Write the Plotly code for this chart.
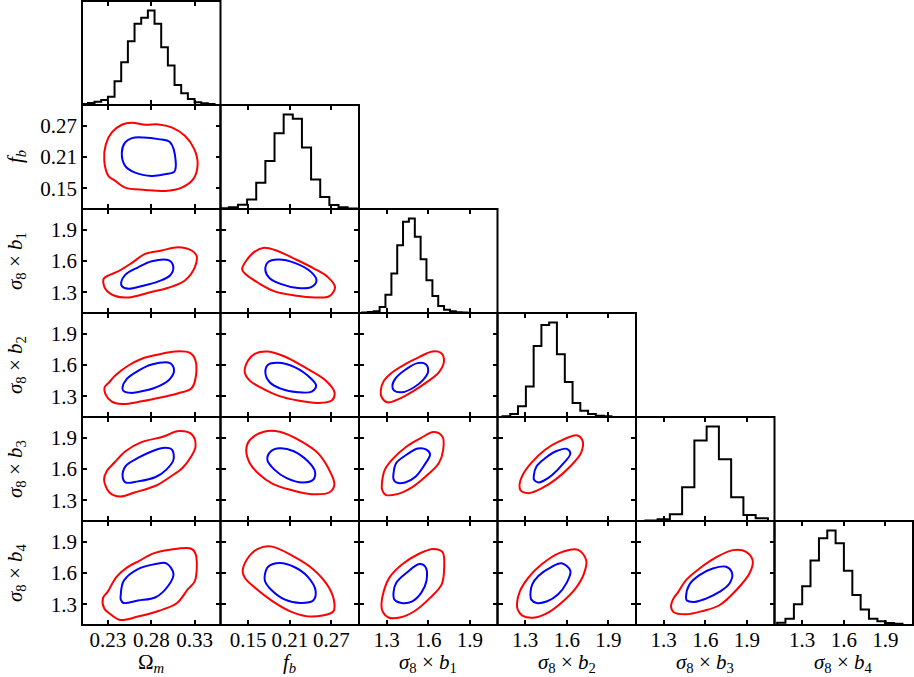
import plotly.graph_objects as go

# ---------------- data ----------------
param_names = ["om", "fb", "b1", "b2", "b3", "b4"]
param_labels = [
    "Ω<sub><i>m</i></sub>",
    "<i>f</i><sub><i>b</i></sub>",
    "<i>σ</i><sub>8</sub> × <i>b</i><sub>1</sub>",
    "<i>σ</i><sub>8</sub> × <i>b</i><sub>2</sub>",
    "<i>σ</i><sub>8</sub> × <i>b</i><sub>3</sub>",
    "<i>σ</i><sub>8</sub> × <i>b</i><sub>4</sub>",
]
axis_ranges = [[0.2, 0.36], [0.11, 0.31], [1.1, 2.1], [1.1, 2.1], [1.1, 2.1], [1.1, 2.1]]
tick_values = [[0.23, 0.28, 0.33], [0.15, 0.21, 0.27], [1.3, 1.6, 1.9],
               [1.3, 1.6, 1.9], [1.3, 1.6, 1.9], [1.3, 1.6, 1.9]]
tick_labels = [["0.23", "0.28", "0.33"], ["0.15", "0.21", "0.27"], ["1.3", "1.6", "1.9"],
               ["1.3", "1.6", "1.9"], ["1.3", "1.6", "1.9"], ["1.3", "1.6", "1.9"]]

# 1D marginal histograms (bin edges, normalised heights)
om_edges = [0.1991, 0.2068, 0.2145, 0.2222, 0.2299, 0.2376, 0.2453, 0.2530, 0.2607, 0.2684,
            0.2761, 0.2838, 0.2915, 0.2992, 0.3069, 0.3146, 0.3223, 0.3300, 0.3377, 0.3454, 0.3531]
om_heights = [0.01, 0.02, 0.035, 0.053, 0.088, 0.251, 0.452, 0.675, 0.859, 0.922,
              1.0, 0.859, 0.611, 0.417, 0.212, 0.124, 0.064, 0.028, 0.018, 0.01]
fb_edges = [0.1088, 0.1220, 0.1352, 0.1484, 0.1616, 0.1748, 0.1880, 0.2012, 0.2144, 0.2276,
            0.2408, 0.2540, 0.2672, 0.2804, 0.2936, 0.3068]
fb_heights = [0.007, 0.018, 0.046, 0.10, 0.278, 0.509, 0.80, 1.0, 0.954, 0.651,
              0.313, 0.128, 0.043, 0.018, 0.004]
b1_edges = [1.122, 1.164, 1.207, 1.249, 1.291, 1.334, 1.376, 1.418, 1.460, 1.503,
            1.545, 1.587, 1.630, 1.672, 1.714, 1.757, 1.799, 1.841, 1.883]
b1_heights = [0.004, 0.011, 0.018, 0.064, 0.194, 0.417, 0.717, 0.965, 1.0, 0.806,
              0.569, 0.346, 0.18, 0.074, 0.035, 0.018, 0.007, 0.004]
b2_edges = [1.136, 1.192, 1.248, 1.305, 1.361, 1.417, 1.473, 1.529, 1.586, 1.642,
            1.698, 1.754, 1.810, 1.867, 1.923]
b2_heights = [0.007, 0.032, 0.113, 0.323, 0.752, 0.972, 1.0, 0.663, 0.369, 0.149,
              0.067, 0.032, 0.014, 0.007]
b3_edges = [1.1675, 1.256, 1.3445, 1.433, 1.5215, 1.61, 1.6985, 1.787, 1.8755, 1.964, 2.0525]
b3_heights = [0.004, 0.018, 0.071, 0.357, 0.852, 1.0, 0.654, 0.251, 0.064, 0.028]
b4_edges = [1.119, 1.179, 1.240, 1.300, 1.360, 1.421, 1.481, 1.541, 1.601, 1.662,
            1.722, 1.782, 1.843, 1.903, 1.963, 2.024]
b4_heights = [0.025, 0.067, 0.22, 0.411, 0.681, 0.918, 1.0, 0.865, 0.574, 0.316,
              0.163, 0.067, 0.039, 0.021, 0.014]

# 2D credible contours: (x, y) points; "in" = 68% (blue), "out" = 95% (red)
c_fb_om_out = [(0.2257, 0.2026), (0.2276, 0.2348), (0.2345, 0.2572), (0.2460, 0.2720), (0.2576, 0.2760),
               (0.2730, 0.2720), (0.2883, 0.2727), (0.3036, 0.2670), (0.3189, 0.2508), (0.3297, 0.2251),
               (0.3336, 0.1961), (0.3285, 0.1673), (0.3151, 0.1511), (0.2960, 0.1447), (0.2730, 0.1467),
               (0.2499, 0.1511), (0.2384, 0.1640), (0.2307, 0.1733)]
c_fb_om_in = [(0.2460, 0.2187), (0.2499, 0.2380), (0.2576, 0.2463), (0.2710, 0.2476), (0.2883, 0.2444),
              (0.3017, 0.2383), (0.3082, 0.2026), (0.3067, 0.1820), (0.2960, 0.1769), (0.2806, 0.1737),
              (0.2614, 0.1800), (0.2499, 0.1930)]

c_b1_om_out = [(0.2250, 1.429), (0.2307, 1.461), (0.2422, 1.503), (0.2576, 1.582), (0.2730, 1.669),
               (0.2921, 1.701), (0.3112, 1.733), (0.3266, 1.701), (0.3323, 1.653), (0.3304, 1.541),
               (0.3189, 1.413), (0.2998, 1.343), (0.2768, 1.295), (0.2538, 1.250), (0.2384, 1.263),
               (0.2269, 1.333)]
c_b1_om_in = [(0.2453, 1.397), (0.2499, 1.467), (0.2653, 1.541), (0.2806, 1.598), (0.3005, 1.605),
              (0.3055, 1.541), (0.3017, 1.461), (0.2883, 1.404), (0.2691, 1.359), (0.2537, 1.333),
              (0.2460, 1.359)]
c_b1_fb_out = [(0.1412, 1.519), (0.1474, 1.605), (0.1584, 1.685), (0.1714, 1.726), (0.1906, 1.701),
               (0.2170, 1.621), (0.2458, 1.525), (0.2650, 1.445), (0.2754, 1.349), (0.2674, 1.263),
               (0.2458, 1.250), (0.2170, 1.269), (0.1882, 1.308), (0.1642, 1.391), (0.1474, 1.467)]
c_b1_fb_in = [(0.1748, 1.509), (0.1786, 1.589), (0.1930, 1.614), (0.2170, 1.582), (0.2410, 1.493),
              (0.2486, 1.413), (0.2410, 1.349), (0.2218, 1.340), (0.1978, 1.378), (0.1810, 1.435)]

c_b2_om_out = [(0.2261, 1.386), (0.2315, 1.434), (0.2384, 1.499), (0.2537, 1.595), (0.2691, 1.660),
               (0.2883, 1.701), (0.3074, 1.730), (0.3247, 1.717), (0.3304, 1.660), (0.3317, 1.499),
               (0.3266, 1.377), (0.3112, 1.328), (0.2921, 1.290), (0.2691, 1.251), (0.2460, 1.225),
               (0.2345, 1.248), (0.2269, 1.322)]
c_b2_om_in = [(0.2468, 1.386), (0.2518, 1.467), (0.2653, 1.547), (0.2806, 1.605), (0.3017, 1.618),
              (0.3063, 1.547), (0.3017, 1.467), (0.2902, 1.402), (0.2730, 1.354), (0.2557, 1.332),
              (0.2476, 1.354)]
c_b2_fb_out = [(0.1450, 1.531), (0.1498, 1.643), (0.1594, 1.708), (0.1786, 1.730), (0.2026, 1.682),
               (0.2314, 1.579), (0.2602, 1.460), (0.2746, 1.338), (0.2706, 1.258), (0.2506, 1.235),
               (0.2218, 1.258), (0.1930, 1.306), (0.1690, 1.380), (0.1522, 1.450)]
c_b2_fb_in = [(0.1748, 1.531), (0.1786, 1.602), (0.1930, 1.621), (0.2170, 1.579), (0.2410, 1.467),
              (0.2481, 1.402), (0.2418, 1.344), (0.2218, 1.338), (0.1978, 1.370), (0.1810, 1.434)]
c_b2_b1_out = [(1.257, 1.354), (1.281, 1.450), (1.341, 1.531), (1.437, 1.611), (1.534, 1.676),
               (1.630, 1.730), (1.690, 1.717), (1.714, 1.643), (1.678, 1.531), (1.582, 1.428),
               (1.486, 1.344), (1.389, 1.274), (1.305, 1.241), (1.264, 1.290)]
c_b2_b1_in = [(1.341, 1.402), (1.365, 1.473), (1.437, 1.557), (1.522, 1.618), (1.582, 1.608),
              (1.599, 1.537), (1.563, 1.457), (1.498, 1.386), (1.413, 1.338), (1.353, 1.354)]

c_b3_om_out = [(0.2255, 1.497), (0.2284, 1.577), (0.2378, 1.665), (0.2502, 1.771), (0.2687, 1.858),
               (0.2934, 1.910), (0.3119, 1.965), (0.3270, 1.932), (0.3312, 1.819), (0.3263, 1.723),
               (0.3160, 1.610), (0.3016, 1.523), (0.2851, 1.439), (0.2605, 1.374), (0.2440, 1.335),
               (0.2317, 1.374)]
c_b3_om_in = [(0.2469, 1.529), (0.2502, 1.626), (0.2646, 1.706), (0.2810, 1.771), (0.2934, 1.803),
              (0.3037, 1.787), (0.3057, 1.690), (0.2975, 1.594), (0.2851, 1.523), (0.2646, 1.481),
              (0.2502, 1.471)]
c_b3_fb_out = [(0.1472, 1.787), (0.1522, 1.877), (0.1726, 1.958), (0.1954, 1.958), (0.2260, 1.868),
               (0.2514, 1.748), (0.2692, 1.561), (0.2744, 1.448), (0.2668, 1.374), (0.2412, 1.358),
               (0.2108, 1.400), (0.1854, 1.458), (0.1650, 1.555), (0.1522, 1.658)]
c_b3_fb_in = [(0.1776, 1.690), (0.1828, 1.771), (0.1954, 1.800), (0.2158, 1.771), (0.2362, 1.674),
              (0.2464, 1.577), (0.2438, 1.497), (0.2286, 1.471), (0.2056, 1.513), (0.1878, 1.594)]
c_b3_b1_out = [(1.267, 1.481), (1.287, 1.594), (1.344, 1.697), (1.446, 1.819), (1.549, 1.900),
               (1.638, 1.955), (1.703, 1.910), (1.708, 1.787), (1.677, 1.658), (1.587, 1.535),
               (1.485, 1.426), (1.382, 1.361), (1.292, 1.352), (1.267, 1.400)]
c_b3_b1_in = [(1.349, 1.555), (1.369, 1.658), (1.446, 1.739), (1.523, 1.797), (1.587, 1.787),
              (1.613, 1.739), (1.574, 1.642), (1.510, 1.529), (1.433, 1.471), (1.369, 1.471),
              (1.349, 1.503)]
c_b3_b2_out = [(1.259, 1.448), (1.279, 1.535), (1.344, 1.658), (1.446, 1.787), (1.549, 1.868),
               (1.677, 1.923), (1.715, 1.868), (1.703, 1.755), (1.626, 1.626), (1.523, 1.503),
               (1.421, 1.416), (1.323, 1.368), (1.267, 1.394)]
c_b3_b2_in = [(1.362, 1.535), (1.382, 1.626), (1.446, 1.706), (1.523, 1.771), (1.600, 1.794),
              (1.626, 1.748), (1.579, 1.658), (1.497, 1.545), (1.433, 1.487), (1.395, 1.471),
              (1.364, 1.497)]

c_b4_om_out = [(0.2255, 1.263), (0.2243, 1.361), (0.2296, 1.419), (0.2399, 1.563), (0.2522, 1.654),
               (0.2666, 1.719), (0.2810, 1.784), (0.3016, 1.823), (0.3263, 1.833), (0.3312, 1.784),
               (0.3304, 1.523), (0.3221, 1.442), (0.3098, 1.312), (0.2893, 1.237), (0.2646, 1.181),
               (0.2440, 1.149), (0.2338, 1.198)]
c_b4_om_in = [(0.2448, 1.393), (0.2481, 1.523), (0.2646, 1.637), (0.2851, 1.686), (0.2975, 1.693),
              (0.3057, 1.589), (0.2995, 1.475), (0.2851, 1.367), (0.2646, 1.335), (0.2481, 1.312),
              (0.2448, 1.344)]
c_b4_fb_out = [(0.1420, 1.615), (0.1486, 1.735), (0.1640, 1.833), (0.1828, 1.856), (0.2134, 1.768),
               (0.2438, 1.637), (0.2668, 1.458), (0.2744, 1.312), (0.2728, 1.230), (0.2412, 1.181),
               (0.2134, 1.224), (0.1854, 1.328), (0.1598, 1.458), (0.1456, 1.550)]
c_b4_fb_in = [(0.1742, 1.589), (0.1788, 1.660), (0.1954, 1.696), (0.2158, 1.660), (0.2362, 1.563),
              (0.2474, 1.426), (0.2438, 1.335), (0.2260, 1.312), (0.2032, 1.344), (0.1828, 1.442),
              (0.1742, 1.523)]
c_b4_b1_out = [(1.262, 1.295), (1.279, 1.426), (1.323, 1.563), (1.408, 1.680), (1.523, 1.778),
               (1.638, 1.830), (1.703, 1.800), (1.715, 1.654), (1.697, 1.491), (1.613, 1.361),
               (1.497, 1.230), (1.395, 1.172), (1.313, 1.172), (1.272, 1.224)]
c_b4_b1_in = [(1.349, 1.409), (1.369, 1.507), (1.446, 1.605), (1.536, 1.686), (1.579, 1.660),
              (1.587, 1.523), (1.549, 1.409), (1.485, 1.328), (1.408, 1.312), (1.356, 1.344)]
c_b4_b2_out = [(1.241, 1.312), (1.262, 1.426), (1.323, 1.556), (1.421, 1.686), (1.549, 1.794),
               (1.682, 1.823), (1.741, 1.719), (1.723, 1.589), (1.664, 1.452), (1.574, 1.328),
               (1.472, 1.224), (1.369, 1.172), (1.279, 1.191), (1.246, 1.247)]
c_b4_b2_in = [(1.338, 1.409), (1.351, 1.491), (1.395, 1.572), (1.485, 1.654), (1.562, 1.693),
              (1.626, 1.621), (1.600, 1.507), (1.536, 1.393), (1.459, 1.328), (1.382, 1.312),
              (1.344, 1.344)]
c_b4_b3_out = [(1.353, 1.274), (1.370, 1.354), (1.401, 1.409), (1.461, 1.531), (1.558, 1.643),
               (1.678, 1.750), (1.799, 1.820), (1.895, 1.804), (1.943, 1.717), (1.919, 1.595),
               (1.823, 1.434), (1.702, 1.290), (1.582, 1.235), (1.461, 1.203), (1.370, 1.225)]
c_b4_b3_in = [(1.461, 1.370), (1.486, 1.489), (1.558, 1.579), (1.654, 1.643), (1.751, 1.660),
              (1.794, 1.595), (1.775, 1.499), (1.702, 1.418), (1.606, 1.354), (1.522, 1.322),
              (1.466, 1.338)]

# ---------------- assembly ----------------
histograms = {
    "om": (om_edges, om_heights), "fb": (fb_edges, fb_heights), "b1": (b1_edges, b1_heights),
    "b2": (b2_edges, b2_heights), "b3": (b3_edges, b3_heights), "b4": (b4_edges, b4_heights),
}
contours = {
    ("fb", "om"): (c_fb_om_in, c_fb_om_out),
    ("b1", "om"): (c_b1_om_in, c_b1_om_out), ("b1", "fb"): (c_b1_fb_in, c_b1_fb_out),
    ("b2", "om"): (c_b2_om_in, c_b2_om_out), ("b2", "fb"): (c_b2_fb_in, c_b2_fb_out),
    ("b2", "b1"): (c_b2_b1_in, c_b2_b1_out),
    ("b3", "om"): (c_b3_om_in, c_b3_om_out), ("b3", "fb"): (c_b3_fb_in, c_b3_fb_out),
    ("b3", "b1"): (c_b3_b1_in, c_b3_b1_out), ("b3", "b2"): (c_b3_b2_in, c_b3_b2_out),
    ("b4", "om"): (c_b4_om_in, c_b4_om_out), ("b4", "fb"): (c_b4_fb_in, c_b4_fb_out),
    ("b4", "b1"): (c_b4_b1_in, c_b4_b1_out), ("b4", "b2"): (c_b4_b2_in, c_b4_b2_out),
    ("b4", "b3"): (c_b4_b3_in, c_b4_b3_out),
}

FONT = "Liberation Serif"
FS = 21
W, H = 914, 677
ML, MR, MT, MB = 82, 1, 1, 52
PW, PH = W - ML - MR, H - MT - MB

N = len(param_names)
fig = go.Figure()
layout = {}
shapes = []
annotations = []
n = 0
for i in range(N):
    for j in range(i + 1):
        n += 1
        xa = "x" if n == 1 else f"x{n}"
        ya = "y" if n == 1 else f"y{n}"
        xk = "xaxis" if n == 1 else f"xaxis{n}"
        yk = "yaxis" if n == 1 else f"yaxis{n}"
        if i == j:
            edges, heights = histograms[param_names[i]]
            xs, ys = [edges[0]], [0.0]
            for k, h in enumerate(heights):
                xs += [edges[k], edges[k + 1]]
                ys += [h, h]
            xs.append(edges[-1]); ys.append(0.0)
            fig.add_trace(go.Scatter(x=xs, y=ys, mode="lines", xaxis=xa, yaxis=ya,
                                     line=dict(color="black", width=2), showlegend=False,
                                     hoverinfo="skip"))
        else:
            inner, outer = contours[(param_names[i], param_names[j])]
            for pts, col in ((outer, "#ff0000"), (inner, "#0000ff")):
                px = [p[0] for p in pts] + [pts[0][0]]
                py = [p[1] for p in pts] + [pts[0][1]]
                fig.add_trace(go.Scatter(x=px, y=py, mode="lines", xaxis=xa, yaxis=ya,
                                         line=dict(color=col, width=2, shape="spline", smoothing=1.0),
                                         showlegend=False, hoverinfo="skip"))
        common = dict(showline=False, mirror="ticks", automargin=False,
                      showgrid=False, zeroline=False, ticks="inside", ticklen=5, tickwidth=1.5,
                      tickcolor="black", tickfont=dict(family=FONT, size=FS, color="black"))
        layout[xk] = dict(common, domain=[j / N, (j + 1) / N], range=axis_ranges[j], anchor=ya,
                          tickmode="array", tickvals=tick_values[j], ticktext=tick_labels[j],
                          showticklabels=(i == N - 1))
        ydom = [1 - (i + 1) / N, 1 - i / N]
        if i == j:
            layout[yk] = dict(common, domain=ydom, range=[0, 1.1], anchor=xa, ticks="",
                              showticklabels=False)
        else:
            layout[yk] = dict(common, domain=ydom, range=axis_ranges[i], anchor=xa,
                              tickmode="array", tickvals=tick_values[i], ticktext=tick_labels[i],
                              showticklabels=(j == 0), ticklabelstandoff=4)
        # panel frame
        shapes.append(dict(type="rect", xref=f"{xa} domain", yref=f"{ya} domain",
                           x0=0, x1=1, y0=0, y1=1, line=dict(color="black", width=2),
                           layer="above"))
        # axis titles
        if i == N - 1:
            annotations.append(dict(text=param_labels[j], xref="paper", yref="paper",
                                    x=(j + 0.5) / N, y=(PH - (663 - MT)) / PH,
                                    xanchor="center", yanchor="middle", showarrow=False,
                                    font=dict(family=FONT, size=FS, color="black")))
        if j == 0 and i > 0:
            annotations.append(dict(text=param_labels[i], xref="paper", yref="paper",
                                    x=(16 - ML) / PW, y=1 - (i + 0.5) / N, textangle=-90,
                                    xanchor="center", yanchor="middle", showarrow=False,
                                    font=dict(family=FONT, size=FS, color="black")))

fig.update_layout(width=W, height=H, margin=dict(l=ML, r=MR, t=MT, b=MB),
                  paper_bgcolor="white", plot_bgcolor="white",
                  shapes=shapes, annotations=annotations, **layout)
fig.write_html("out.html", config={"displayModeBar": False},
               post_script="document.body.style.margin='0px';")
